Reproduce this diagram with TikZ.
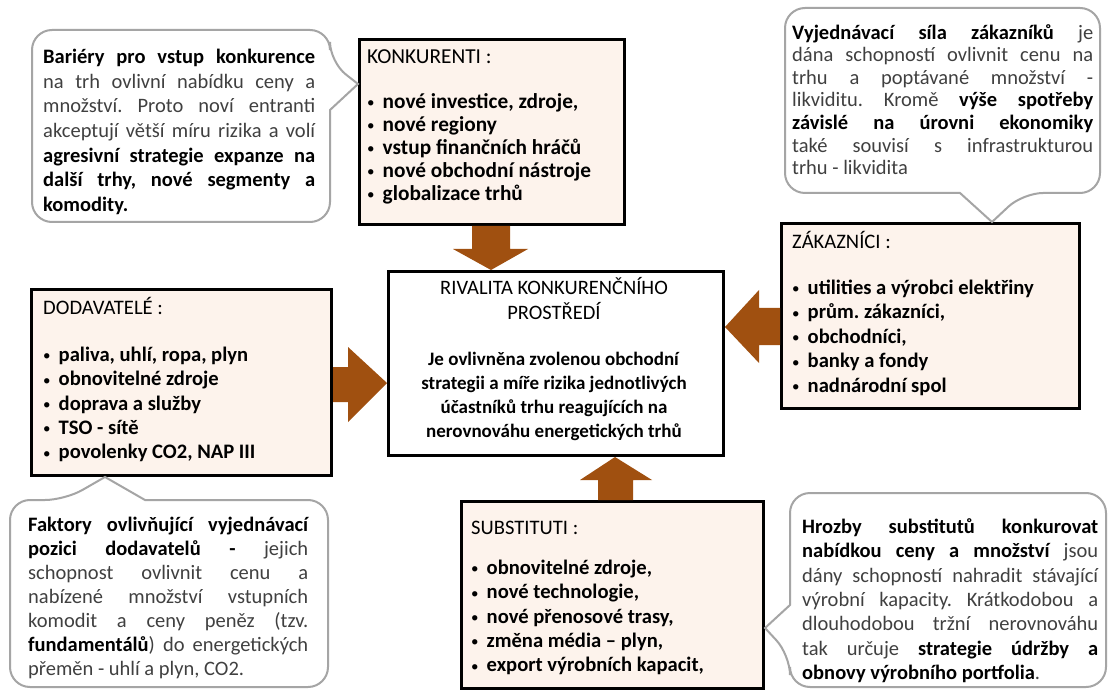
\documentclass[tikz,border=0pt]{standalone}
\usepackage{fontspec}
\setmainfont{Carlito}
\usetikzlibrary{calc}
\frenchspacing
\definecolor{boxfill}{RGB}{253,243,236}
\definecolor{arrbrown}{RGB}{160,80,16}
\definecolor{callline}{RGB}{165,165,165}
\definecolor{calltext}{RGB}{64,64,64}
\newlength\cw
\newcommand\jl[1]{\makebox[\cw][s]{#1}}
\newcommand\bd[1]{\textbf{\color{black}#1}}
\newcommand\itm[1]{\makebox[15.5pt][l]{\raisebox{0.6pt}{\fontsize{15}{15}\selectfont\textbullet}}\textbf{#1}}
\begin{document}
\begin{tikzpicture}[x=1pt,y=-1pt,
  forcebox/.style={draw=black, line width=3pt, fill=boxfill, anchor=north west, inner sep=0pt},
  centerbox/.style={draw=black, line width=3pt, fill=white, anchor=north west, inner sep=0pt},
  calloutshape/.style={draw=callline, line width=2pt, fill=white, rounded corners=20pt},
  boxtext/.style={anchor=north west, inner sep=0pt, align=left, font=\fontsize{20.6}{24.4}\selectfont},
  calltxt/.style={anchor=north west, inner sep=0pt, align=left, text=calltext},
  blockarrow/.style={fill=arrbrown, draw=none}
]
\useasboundingbox (0,0) rectangle (1110,692);
\fill[white] (0,0) rectangle (1110,692);

% ---------- boxes ----------
\node[forcebox, minimum width=265pt, minimum height=185pt] (konk) at (358,38) {};
\node[forcebox, minimum width=300pt, minimum height=186pt] (dod) at (30,288) {};
\node[forcebox, minimum width=298pt, minimum height=185pt] (zak) at (780,222) {};
\node[forcebox, minimum width=302pt, minimum height=187pt] (subst) at (460,500) {};
\node[centerbox, minimum width=335pt, minimum height=184pt] (rival) at (387,270) {};

% ---------- block arrows ----------
\fill[blockarrow] (472,0 |- konk.south) -- (510,0 |- konk.south) -- (510,249) -- (528,249)
   -- (491,0 |- rival.north) -- (453,249) -- (472,249) -- cycle;
\fill[blockarrow] (dod.east |- 0,367) -- (348,367) -- (348,347) -- (rival.west |- 0,383)
   -- (348,422) -- (348,402) -- (dod.east |- 0,402) -- cycle;
\fill[blockarrow] (zak.west |- 0,308) -- (759,308) -- (759,290) -- (rival.east |- 0,327)
   -- (759,363) -- (759,345) -- (zak.west |- 0,345) -- cycle;
\fill[blockarrow] (598,0 |- subst.north) -- (598,480) -- (580,480) -- (615,0 |- rival.south)
   -- (652,480) -- (633,480) -- (633,0 |- subst.north) -- cycle;

% ---------- box texts ----------
\node[boxtext, font=\fontsize{21.3}{23}\selectfont] (konkt) at (367,47) {\strut KONKURENTI :\\[22pt]
 \itm{nové investice, zdroje,}\\
 \itm{nové regiony}\\
 \itm{vstup finančních hráčů}\\
 \itm{nové obchodní nástroje}\\
 \itm{globalizace trhů}};
\node[boxtext] (dodt) at (43,297) {\strut DODAVATELÉ :\\[22.5pt]
 \itm{paliva, uhlí, ropa, plyn}\\
 \itm{obnovitelné zdroje}\\
 \itm{doprava a služby}\\
 \itm{TSO - sítě}\\
 \itm{povolenky CO2, NAP III}};
\node[boxtext] (zakt) at (792,231) {\strut ZÁKAZNÍCI :\\[21.6pt]
 \itm{utilities a výrobci elektřiny}\\
 \itm{prům. zákazníci,}\\
 \itm{obchodníci,}\\
 \itm{banky a fondy}\\
 \itm{nadnárodní spol}};
\node[boxtext] (substt) at (471,517) {\strut SUBSTITUTI :\\[15.6pt]
 \itm{obnovitelné zdroje,}\\
 \itm{nové technologie,}\\
 \itm{nové přenosové trasy,}\\
 \itm{změna média – plyn,}\\
 \itm{export výrobních kapacit,}};
\node[anchor=north, inner sep=0pt, align=center, font=\fontsize{19}{24}\selectfont] (rivalt) at (554,277)
 {\strut{\fontsize{20.5}{24}\selectfont RIVALITA KONKURENČNÍHO}\\ {\fontsize{20.5}{24}\selectfont PROSTŘEDÍ}\\[22pt]
 \textbf{Je ovlivněna zvolenou obchodní}\\
 \textbf{strategii a míře rizika jednotlivých}\\
 \textbf{účastníků trhu reagujících na}\\
 \textbf{nerovnováhu energetických trhů}};

% ---------- callouts ----------
\draw[calloutshape] (32,30) -- (330,30) -- (330,62) [sharp corners] -- (konk.west |- 0,84) -- (330,110)
   [rounded corners=20pt] -- (330,222) -- (32,222) -- cycle;
\draw[calloutshape] (785,8) -- (1100,8) -- (1100,193) -- (1023,193) [sharp corners] -- (992,0 |- zak.north)
   -- (960,193) [rounded corners=20pt] -- (785,193) -- cycle;
\draw[calloutshape] (10,500) -- (65,500) [sharp corners] -- (105,0 |- dod.south) -- (145,500)
   [rounded corners=20pt] -- (328,500) -- (328,687) -- (10,687) -- cycle;
\draw[calloutshape] (790,493) -- (1106,493) -- (1106,687) -- (790,687) -- (790,655) [sharp corners]
   -- (subst.east |- 0,628) -- (790,605) [rounded corners=20pt] -- cycle;

\setlength\cw{272pt}
\node[calltxt, font=\fontsize{20.5}{24.7}\selectfont] (c1) at (43,46) {\strut
 \jl{\bd{Bariéry pro vstup konkurence}}\\
 \jl{na trh ovlivní nabídku ceny a}\\
 \jl{množství. Proto noví entranti}\\
 \jl{akceptují větší míru rizika a volí}\\
 \jl{\bd{agresivní strategie expanze na}}\\
 \jl{\bd{další trhy, nové segmenty a}}\\
 \bd{komodity.}};
\setlength\cw{301pt}
\node[calltxt, font=\fontsize{20.5}{22.6}\selectfont] (c2) at (792,23) {\strut
 \jl{\bd{Vyjednávací síla zákazníků} je}\\
 \jl{dána schopností ovlivnit cenu na}\\
 \jl{trhu a poptávané množství -}\\
 \jl{likviditu. Kromě \bd{výše spotřeby}}\\
 \jl{\bd{závislé na úrovni ekonomiky}}\\
 \jl{také souvisí s infrastrukturou}\\
 trhu - likvidita};
\setlength\cw{280pt}
\node[calltxt, font=\fontsize{20.5}{24}\selectfont] (c3) at (28,514) {\strut
 \jl{\bd{Faktory ovlivňující vyjednávací}}\\
 \jl{\bd{pozici dodavatelů -} jejich}\\
 \jl{schopnost ovlivnit cenu a}\\
 \jl{nabízené množství vstupních}\\
 \jl{komodit a ceny peněz (tzv.}\\
 \jl{\bd{fundamentálů}) do energetických}\\
 přeměn - uhlí a plyn, CO2.};
\setlength\cw{296pt}
\node[calltxt, font=\fontsize{20.5}{24.4}\selectfont] (c4) at (802,516) {\strut
 \jl{\bd{Hrozby substitutů konkurovat}}\\
 \jl{\bd{nabídkou ceny a množství} jsou}\\
 \jl{dány schopností nahradit stávající}\\
 \jl{výrobní kapacity. Krátkodobou a}\\
 \jl{dlouhodobou tržní nerovnováhu}\\
 \jl{tak určuje \bd{strategie údržby a}}\\
 \bd{obnovy výrobního portfolia}.};
\end{tikzpicture}
\end{document}
